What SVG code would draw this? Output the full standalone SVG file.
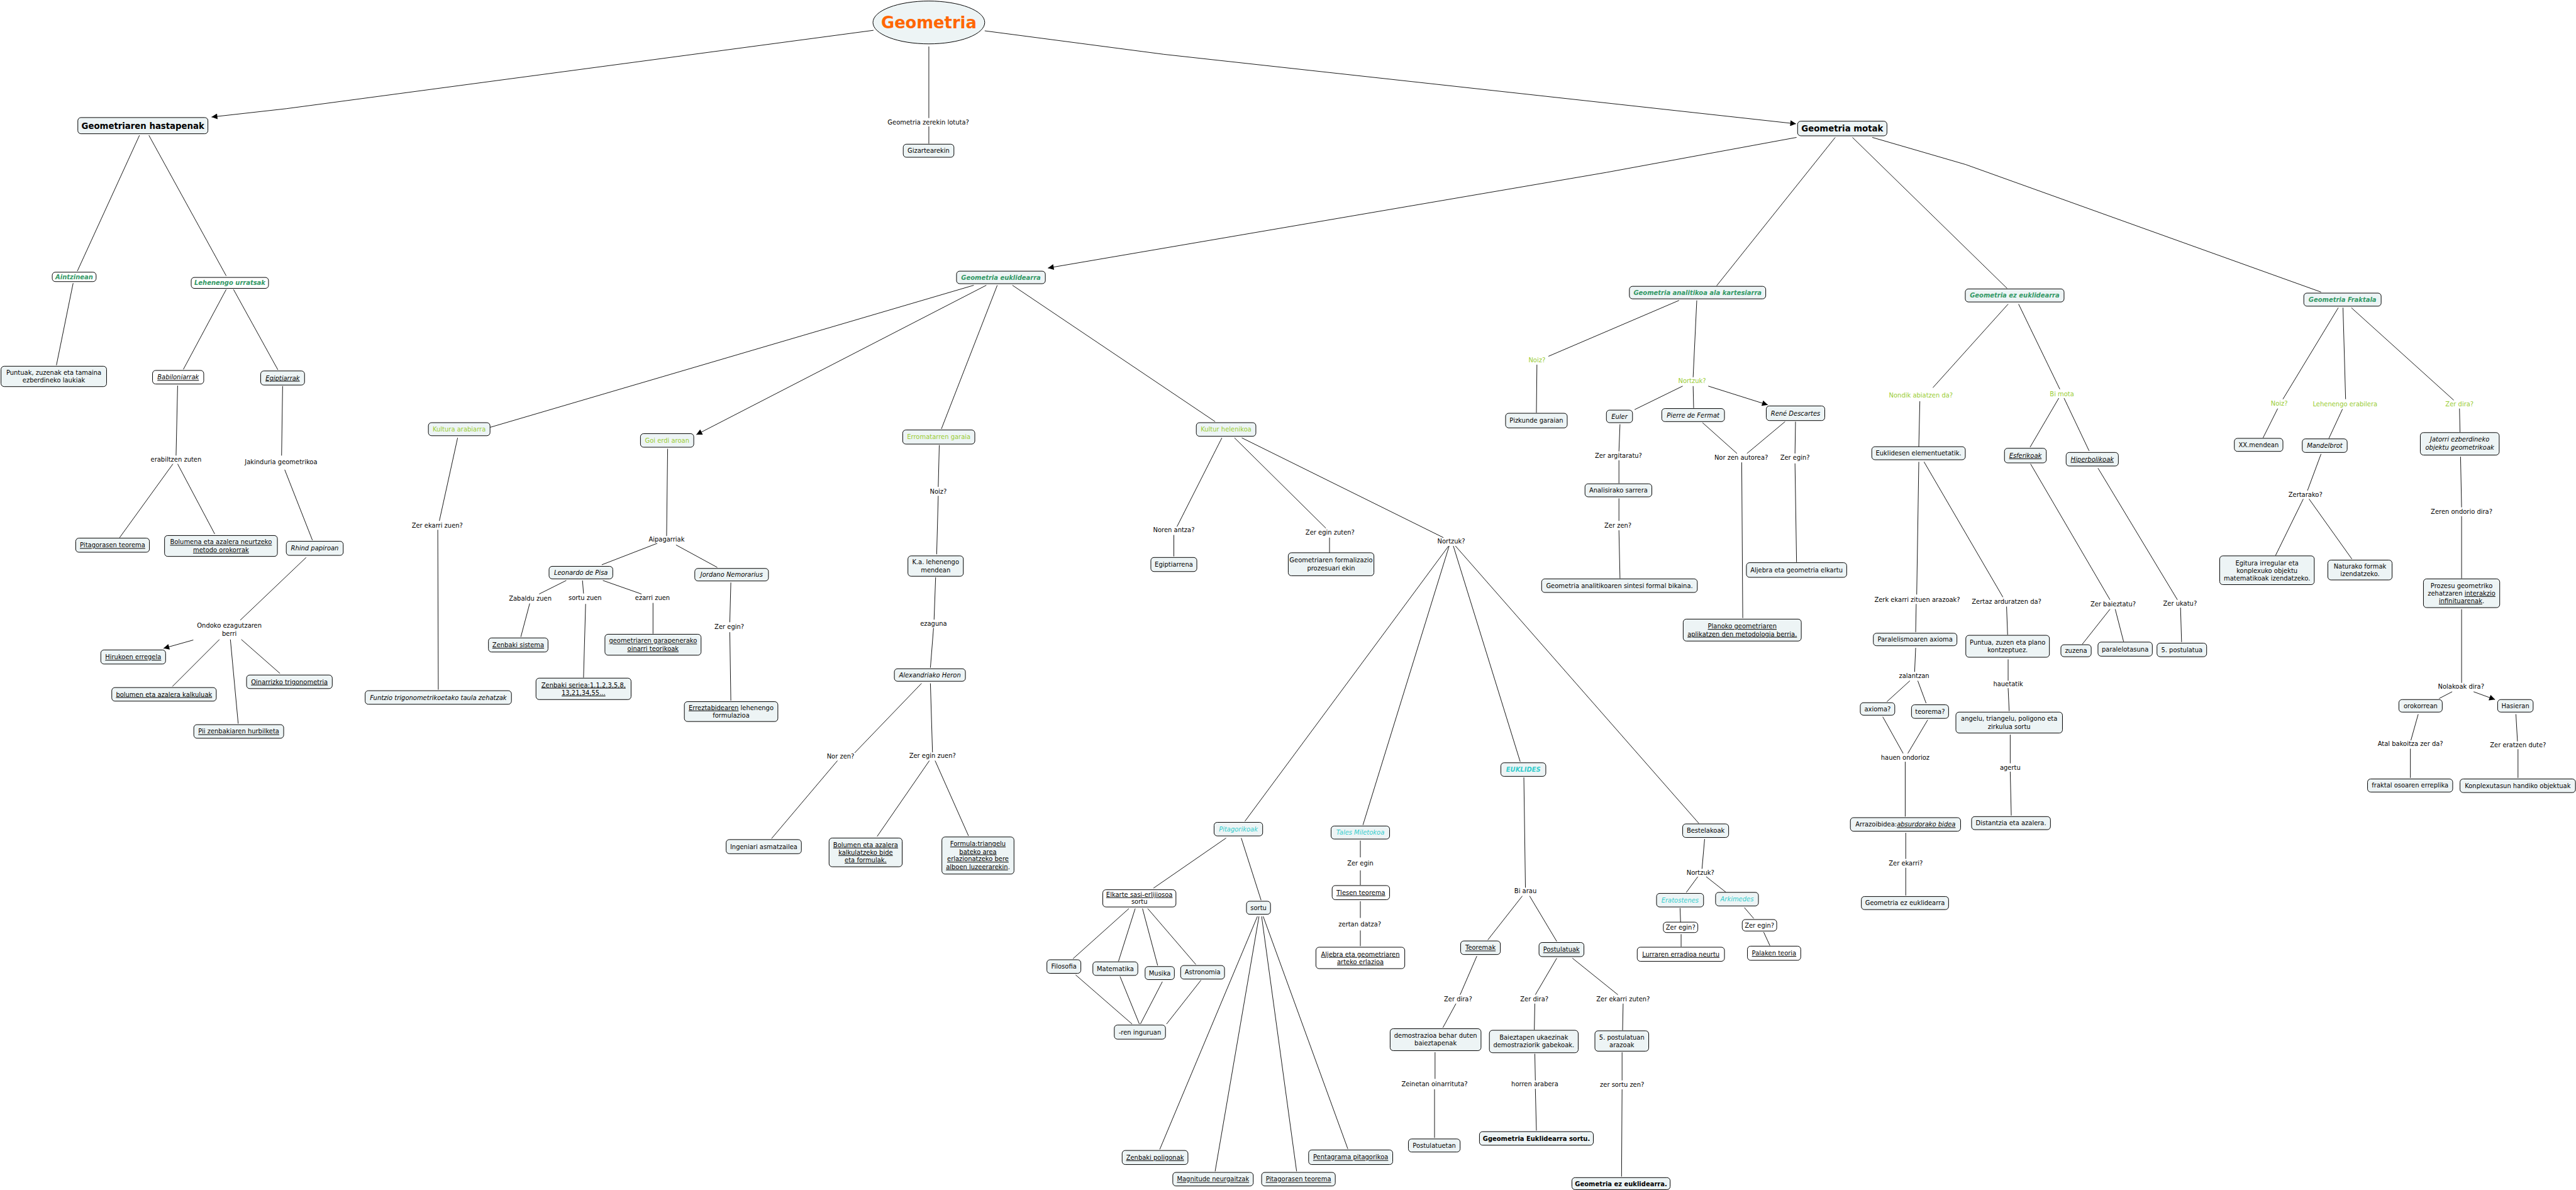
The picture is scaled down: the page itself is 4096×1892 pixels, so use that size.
<svg xmlns="http://www.w3.org/2000/svg" width="4096" height="1892" viewBox="0 0 4096 1892">
<style>
text{font-family:"DejaVu Sans",Verdana,sans-serif;font-size:12px;fill:#000;text-anchor:middle}
.nd rect,.nd ellipse{fill:#edf4f5;stroke:#000;stroke-width:1.2}
.wh rect{fill:#fff}
.cn path{stroke:#000;stroke-width:1.1;fill:none}
.g{fill:#339966;font-weight:bold;font-style:italic}
.y{fill:#99cc33}
.c{fill:#33cccc;font-style:italic}
.cb{fill:#33cccc;font-style:italic;font-weight:bold}
.i{font-style:italic}
.u{text-decoration:underline}
.b{font-weight:bold}
.h{font-weight:bold;font-size:16px}
.t{font-weight:bold;font-size:31px;fill:#ff6600}
</style>
<defs>
<marker id="arr" viewBox="0 0 10 10" refX="10" refY="5" markerWidth="14" markerHeight="11" markerUnits="userSpaceOnUse" orient="auto"><path d="M0,0 L10,5 L0,10 z" fill="#000"/></marker>
</defs>
<rect width="4096" height="1892" fill="#fff"/>
<g transform="scale(0.83066)">
<g id="connectors" class="cn">
<path d="M1672,58 L548,208 L405,224" marker-end="url(#arr)"/>
<path d="M1778,89 L1778,226 M1778,242 L1778,275"/>
<path d="M1885,59 L2228,104 L3438,237" marker-end="url(#arr)"/>
<path d="M267,259 L148,519 M285,259 L433,528 M140,542 L108,699 M433,554 L351,707 M447,554 L532,708"/>
<path d="M340,738 L337,872 M331,888 L229,1029 M340,888 L411,1022"/>
<path d="M541,739 L539,872 M545,899 L598,1034 M586,1067 L460,1187"/>
<path d="M370,1225 L313,1241" marker-end="url(#arr)"/>
<path d="M420,1224 L330,1314 M441,1224 L456,1385 M462,1224 L536,1289"/>
<path d="M3439,263 L3075,330 L2006,513" marker-end="url(#arr)"/>
<path d="M3513,263 L3286,547 M3546,263 L3842,552 M3584,263 L3763,315 L4443,559"/>
<path d="M1864,546 L938,818"/>
<path d="M1888,546 L1333,832" marker-end="url(#arr)"/>
<path d="M1909,546 L1802,821 M1938,546 L2326,807"/>
<path d="M876,838 L841,997 M838,1014 L839,1320"/>
<path d="M1278,859 L1276,1026 M1258,1040 L1152,1081 M1294,1043 L1373,1086 M1399,1115 L1397,1191 M1397,1210 L1399,1341"/>
<path d="M1084,1111 L1032,1137 M1014,1155 L997,1219 M1115,1111 L1117,1136 M1121,1156 L1117,1297 M1154,1111 L1228,1137 M1250,1154 L1250,1213"/>
<path d="M1798,852 L1796,932 M1796,949 L1793,1061 M1791,1105 L1788,1186 M1787,1202 L1781,1278"/>
<path d="M1764,1308 L1636,1441 M1603,1456 L1477,1605 M1781,1308 L1785,1440 M1779,1456 L1679,1601 M1790,1456 L1854,1600"/>
<path d="M2339,838 L2253,1008 M2247,1024 L2247,1065 M2363,838 L2538,1011 M2545,1029 L2545,1058 M2377,838 L2763,1029"/>
<path d="M2773,1045 L2383,1572 M2774,1045 L2609,1579 M2782,1045 L2910,1458 M2786,1045 L3252,1576"/>
<path d="M2347,1604 L2208,1700 M2376,1604 L2414,1723"/>
<path d="M2161,1739 L2054,1835 M2173,1739 L2141,1840 M2187,1739 L2216,1848 M2197,1739 L2289,1846"/>
<path d="M2059,1866 L2167,1960 M2144,1869 L2181,1960 M2225,1879 L2183,1960 M2299,1876 L2233,1960"/>
<path d="M2407,1754 L2220,2200 M2410,1754 L2326,2242 M2415,1754 L2482,2242 M2418,1754 L2580,2199"/>
<path d="M2604,1609 L2604,1641 M2604,1666 L2604,1694 M2604,1725 L2604,1757 M2604,1781 L2604,1811"/>
<path d="M2917,1488 L2920,1699 M2914,1715 L2848,1799 M2928,1715 L2980,1802"/>
<path d="M2827,1830 L2795,1904 M2787,1921 L2762,1967 M2980,1834 L2939,1904 M2938,1921 L2937,1971 M3010,1834 L3097,1904 M3107,1921 L3106,1972"/>
<path d="M2747,2014 L2747,2065 M2746,2085 L2746,2178 M2938,2017 L2939,2068 M2939,2084 L2941,2164 M3105,2014 L3105,2068 M3105,2085 L3104,2252"/>
<path d="M3263,1606 L3258,1663 M3250,1678 L3228,1708 M3266,1678 L3304,1708 M3216,1738 L3217,1765 M3218,1788 L3218,1812 M3339,1737 L3357,1758 M3376,1784 L3388,1810"/>
<path d="M3214,575 L2964,682 M2942,698 L2941,790 M3248,575 L3241,722 M3221,739 L3129,784 M3241,739 L3242,781"/>
<path d="M3270,739 L3384,775" marker-end="url(#arr)"/>
<path d="M3101,812 L3099,864 M3099,881 L3099,925 M3099,954 L3099,997 M3099,1015 L3101,1107"/>
<path d="M3259,809 L3325,868 M3417,807 L3344,868 M3334,885 L3336,1183 M3437,807 L3436,868 M3436,887 L3439,1076"/>
<path d="M3844,582 L3700,742 M3675,768 L3673,855 M3864,582 L3943,745 M3941,762 L3886,856 M3951,762 L3999,863"/>
<path d="M3673,884 L3669,1138 M3668,1156 L3667,1210 M3683,884 L3834,1143 M3841,1161 L3843,1215"/>
<path d="M3667,1240 L3665,1286 M3656,1303 L3612,1343 M3671,1303 L3687,1346 M3604,1372 L3643,1442 M3690,1378 L3652,1442"/>
<path d="M3647,1458 L3647,1563 M3648,1594 L3648,1644 M3648,1661 L3648,1714"/>
<path d="M3844,1262 L3844,1303 M3844,1317 L3846,1361 M3848,1406 L3848,1461 M3848,1477 L3850,1561"/>
<path d="M3887,888 L4039,1148 M4039,1166 L3986,1233 M4049,1166 L4065,1228 M4016,896 L4168,1148 M4174,1163 L4176,1229"/>
<path d="M4476,589 L4370,764 M4360,782 L4332,838 M4485,589 L4490,764 M4484,783 L4458,839 M4501,589 L4697,766 M4708,782 L4709,827"/>
<path d="M4443,869 L4417,939 M4409,955 L4356,1063 M4420,955 L4502,1070 M4710,874 L4712,971 M4712,988 L4712,1107"/>
<path d="M4712,1166 L4712,1307 M4694,1324 L4669,1337"/>
<path d="M4735,1324 L4776,1339" marker-end="url(#arr)"/>
<path d="M4629,1367 L4615,1417 M4614,1433 L4614,1489 M4816,1367 L4819,1419 M4820,1434 L4820,1489"/>
</g>
<g id="labels">
<text x="1777" y="238">Geometria zerekin lotuta?</text>
<text x="337" y="884">erabiltzen zuten</text>
<text x="538" y="888">Jakinduria geometrikoa</text>
<text x="439" y="1202">Ondoko ezagutzaren</text>
<text x="439" y="1217">berri</text>
<text x="837" y="1010">Zer ekarri zuen?</text>
<text x="1015" y="1150">Zabaldu zuen</text>
<text x="1120" y="1149">sortu zuen</text>
<text x="1249" y="1149">ezarri zuen</text>
<text x="1276" y="1037">Aipagarriak</text>
<text x="1396" y="1204">Zer egin?</text>
<text x="1796" y="945">Noiz?</text>
<text x="1787" y="1198">ezaguna</text>
<text x="1609" y="1452">Nor zen?</text>
<text x="1785" y="1451">Zer egin zuen?</text>
<text x="2247" y="1019">Noren antza?</text>
<text x="2546" y="1023">Zer egin zuten?</text>
<text x="2778" y="1040">Nortzuk?</text>
<text class="y" x="2942" y="693">Noiz?</text>
<text class="y" x="3239" y="733">Nortzuk?</text>
<text x="3098" y="876">Zer argitaratu?</text>
<text x="3097" y="1010">Zer zen?</text>
<text x="3333" y="880">Nor zen autorea?</text>
<text x="3436" y="880">Zer egin?</text>
<text class="y" x="3677" y="761">Nondik abiatzen da?</text>
<text class="y" x="3947" y="758">Bi mota</text>
<text x="3670" y="1152">Zerk ekarri zituen arazoak?</text>
<text x="3664" y="1298">zalantzan</text>
<text x="3647" y="1454">hauen ondorioz</text>
<text x="3841" y="1156">Zertaz arduratzen da?</text>
<text x="3844" y="1314">hauetatik</text>
<text x="3848" y="1474">agertu</text>
<text x="4045" y="1161">Zer baieztatu?</text>
<text x="4173" y="1159">Zer ukatu?</text>
<text class="y" x="4363" y="777">Noiz?</text>
<text class="y" x="4489" y="778">Lehenengo erabilera</text>
<text class="y" x="4708" y="778">Zer dira?</text>
<text x="4413" y="951">Zertarako?</text>
<text x="4712" y="983">Zeren ondorio dira?</text>
<text x="4711" y="1318">Nolakoak dira?</text>
<text x="4614" y="1428">Atal bakoitza zer da?</text>
<text x="4820" y="1430">Zer eratzen dute?</text>
<text x="2604" y="1656">Zer egin</text>
<text x="2603" y="1773">zertan datza?</text>
<text x="2920" y="1710">Bi arau</text>
<text x="2791" y="1917">Zer dira?</text>
<text x="2937" y="1917">Zer dira?</text>
<text x="3107" y="1916">Zer ekarri zuten?</text>
<text x="2746" y="2079">Zeinetan oinarrituta?</text>
<text x="2938" y="2079">horren arabera</text>
<text x="3105" y="2080">zer sortu zen?</text>
<text x="3255" y="1674">Nortzuk?</text>
<text x="3648" y="1656">Zer ekarri?</text>
</g>
<g class="nd">
<g id="n-geometria"><ellipse cx="1778" cy="43" rx="107" ry="41"/><text class="t" x="1778" y="54">Geometria</text></g>
<g id="n-gizartearekin"><rect x="1729" y="276" width="97" height="25" rx="6"/><text x="1777.5" y="292.8">Gizartearekin</text></g>
<g id="n-hastapenak"><rect x="149" y="225" width="249" height="31" rx="6"/><text class="h" x="273.5" y="246.3">Geometriaren hastapenak</text></g>
<g id="n-motak"><rect x="3441" y="232" width="171" height="28" rx="6"/><text class="h" x="3526.5" y="251.8">Geometria motak</text></g>
<g id="n-aintzinean" class="wh"><rect x="100" y="521" width="84" height="18" rx="6"/><text class="g" x="142" y="534.3">Aintzinean</text></g>
<g id="n-lehenengo" class="wh"><rect x="366" y="531" width="148" height="21" rx="6"/><text class="g" x="440" y="545.8">Lehenengo urratsak</text></g>
<g id="n-puntuak"><rect x="2" y="701" width="202" height="39" rx="6"/><text x="103" y="717.3">Puntuak, zuzenak eta tamaina</text><text x="103" y="732.3">ezberdineko laukiak</text></g>
<g id="n-babiloniarrak" class="wh"><rect x="292" y="709" width="98" height="26" rx="6"/><text class="i u" x="341" y="726.3">Babiloniarrak</text></g>
<g id="n-egiptiarrak"><rect x="499" y="710" width="84" height="27" rx="6"/><text class="i u" x="541" y="727.8">Egiptiarrak</text></g>
<g id="n-pitagorasen1"><rect x="145" y="1030" width="141" height="27" rx="6"/><text class="u" x="215.5" y="1047.8">Pitagorasen teorema</text></g>
<g id="n-bolumena"><rect x="315" y="1025" width="216" height="40" rx="6"/><text class="u" x="423" y="1041.8">Bolumena eta azalera neurtzeko</text><text class="u" x="423" y="1056.8">metodo orokorrak</text></g>
<g id="n-rhind"><rect x="548" y="1036" width="109" height="27" rx="6"/><text class="i" x="602.5" y="1053.8">Rhind papiroan</text></g>
<g id="n-hirukoen"><rect x="193" y="1244" width="124" height="27" rx="6"/><text class="u" x="255" y="1261.8">Hirukoen erregela</text></g>
<g id="n-bolumen-kalk"><rect x="214" y="1316" width="200" height="26" rx="6"/><text class="u" x="314" y="1333.3">bolumen eta azalera kalkuluak</text></g>
<g id="n-oinarrizko"><rect x="472" y="1292" width="164" height="26" rx="6"/><text class="u" x="554" y="1309.3">Oinarrizko trigonometria</text></g>
<g id="n-pii"><rect x="371" y="1387" width="172" height="26" rx="6"/><text class="u" x="457" y="1404.3">Pii zenbakiaren hurbilketa</text></g>
<g id="n-kultura-arab"><rect x="820" y="809" width="118" height="25" rx="6"/><text class="y" x="879" y="825.8">Kultura arabiarra</text></g>
<g id="n-funtzio"><rect x="699" y="1322" width="280" height="26" rx="6"/><text class="i" x="839" y="1339.3">Funtzio trigonometrikoetako taula zehatzak</text></g>
<g id="n-leonardo"><rect x="1051" y="1084" width="122" height="24" rx="6"/><text class="i" x="1112" y="1100.3">Leonardo de Pisa</text></g>
<g id="n-zenbaki-sistema"><rect x="935" y="1221" width="114" height="27" rx="6"/><text class="u" x="992" y="1238.8">Zenbaki sistema</text></g>
<g id="n-zenbaki-seriea"><rect x="1026" y="1298" width="182" height="41" rx="6"/><text class="u" x="1117" y="1315.3">Zenbaki seriea:1,1,2,3,5,8,</text><text class="u" x="1117" y="1330.3">13,21,34,55...</text></g>
<g id="n-garapenerako"><rect x="1158" y="1214" width="184" height="40" rx="6"/><text class="u" x="1250" y="1230.8">geometriaren garapenerako</text><text class="u" x="1250" y="1245.8">oinarri teorikoak</text></g>
<g id="n-goi-erdi"><rect x="1226" y="830" width="102" height="26" rx="6"/><text class="y" x="1277" y="847.3">Goi erdi aroan</text></g>
<g id="n-jordano"><rect x="1330" y="1088" width="141" height="24" rx="6"/><text class="i" x="1400.5" y="1104.3">Jordano Nemorarius</text></g>
<g id="n-erreztabide"><rect x="1310" y="1343" width="179" height="38" rx="6"/><text x="1399.5" y="1358.8"><tspan class="u">Erreztabidearen</tspan> lehenengo</text><text x="1399.5" y="1373.8">formulazioa</text></g>
<g id="n-erromatarren"><rect x="1728" y="823" width="138" height="27" rx="6"/><text class="y" x="1797" y="840.8">Erromatarren garaia</text></g>
<g id="n-ka"><rect x="1738" y="1064" width="106" height="39" rx="6"/><text x="1791" y="1080.3">K.a. lehenengo</text><text x="1791" y="1095.3">mendean</text></g>
<g id="n-heron"><rect x="1712" y="1280" width="136" height="24" rx="6"/><text class="i" x="1780" y="1296.3">Alexandriako Heron</text></g>
<g id="n-ingeniari"><rect x="1390" y="1607" width="144" height="27" rx="6"/><text x="1462" y="1624.8">Ingeniari asmatzailea</text></g>
<g id="n-bolumen-bide"><rect x="1587" y="1604" width="140" height="55" rx="6"/><text class="u" x="1657" y="1621.3">Bolumen eta azalera</text><text class="u" x="1657" y="1635.8">kalkulatzeko bide</text><text class="u" x="1657" y="1650.3">eta formulak.</text></g>
<g id="n-formula"><rect x="1803" y="1602" width="138" height="71" rx="6"/><text class="u" x="1872" y="1619.3">Formula:triangelu</text><text class="u" x="1872" y="1634.3">bateko area</text><text class="u" x="1872" y="1648.3">erlazionatzeko bere</text><text x="1872" y="1663.3"><tspan class="u">alboen luzeerarekin</tspan>.</text></g>
<g id="n-helenikoa"><rect x="2290" y="809" width="114" height="26" rx="6"/><text class="y" x="2347" y="826.3">Kultur helenikoa</text></g>
<g id="n-egiptiarrena"><rect x="2203" y="1067" width="88" height="27" rx="6"/><text x="2247" y="1084.8">Egiptiarrena</text></g>
<g id="n-formalizazio"><rect x="2466" y="1058" width="164" height="44" rx="6"/><text x="2548" y="1076.8">Geometriaren formalizazio</text><text x="2548" y="1091.8">prozesuari ekin</text></g>
<g id="n-euklidearra"><rect x="1831" y="519" width="170" height="24" rx="6"/><text class="g" x="1916" y="535.3">Geometria euklidearra</text></g>
<g id="n-analitikoa"><rect x="3119" y="548" width="261" height="24" rx="6"/><text class="g" x="3249.5" y="564.3">Geometria analitikoa ala kartesiarra</text></g>
<g id="n-ez-eukl"><rect x="3762" y="553" width="189" height="25" rx="6"/><text class="g" x="3856.5" y="569.8">Geometria ez euklidearra</text></g>
<g id="n-fraktala"><rect x="4410" y="561" width="148" height="25" rx="6"/><text class="g" x="4484" y="577.8">Geometria Fraktala</text></g>
<g id="n-pizkunde"><rect x="2882" y="791" width="118" height="28" rx="6"/><text x="2941" y="809.3">Pizkunde garaian</text></g>
<g id="n-euler"><rect x="3075" y="785" width="50" height="24" rx="6"/><text class="i" x="3100" y="801.3">Euler</text></g>
<g id="n-fermat"><rect x="3181" y="782" width="120" height="25" rx="6"/><text class="i" x="3241" y="798.8">Pierre de Fermat</text></g>
<g id="n-descartes"><rect x="3381" y="777" width="112" height="28" rx="6"/><text class="i" x="3437" y="795.3">René Descartes</text></g>
<g id="n-analisirako"><rect x="3034" y="926" width="128" height="25" rx="6"/><text x="3098" y="942.8">Analisirako sarrera</text></g>
<g id="n-sintesi"><rect x="2951" y="1108" width="298" height="26" rx="6"/><text x="3100" y="1125.3">Geometria analitikoaren sintesi formal bikaina.</text></g>
<g id="n-planoko"><rect x="3222" y="1185" width="226" height="42" rx="6"/><text class="u" x="3335" y="1202.8">Planoko geometriaren</text><text class="u" x="3335" y="1217.8">aplikatzen den metodologia berria.</text></g>
<g id="n-aljebra-elkartu"><rect x="3343" y="1077" width="192" height="28" rx="6"/><text x="3439" y="1095.3">Aljebra eta geometria elkartu</text></g>
<g id="n-euklidesen"><rect x="3583" y="855" width="179" height="25" rx="6"/><text x="3672.5" y="871.8">Euklidesen elementuetatik.</text></g>
<g id="n-paralelismo"><rect x="3586" y="1212" width="160" height="24" rx="6"/><text x="3666" y="1228.3">Paralelismoaren axioma</text></g>
<g id="n-axioma"><rect x="3561" y="1345" width="66" height="24" rx="6"/><text x="3594" y="1361.3">axioma?</text></g>
<g id="n-teorema"><rect x="3659" y="1349" width="71" height="26" rx="6"/><text x="3694.5" y="1366.3">teorema?</text></g>
<g id="n-arrazoibidea"><rect x="3542" y="1565" width="211" height="26" rx="6"/><text x="3647.5" y="1582.3">Arrazoibidea:<tspan class="i u">absurdorako bidea</tspan></text></g>
<g id="n-ez-eukl-box"><rect x="3563" y="1716" width="167" height="25" rx="6"/><text x="3646.5" y="1732.8">Geometria ez euklidearra</text></g>
<g id="n-esferikoak"><rect x="3837" y="858" width="80" height="28" rx="6"/><text class="i u" x="3877" y="876.3">Esferikoak</text></g>
<g id="n-hiperbolikoak"><rect x="3955" y="866" width="100" height="26" rx="6"/><text class="i u" x="4005" y="883.3">Hiperbolikoak</text></g>
<g id="n-puntua"><rect x="3763" y="1216" width="160" height="42" rx="6"/><text x="3843" y="1233.8">Puntua, zuzen eta plano</text><text x="3843" y="1248.8">kontzeptuez.</text></g>
<g id="n-angelu"><rect x="3744" y="1363" width="204" height="40" rx="6"/><text x="3846" y="1379.8">angelu, triangelu, poligono eta</text><text x="3846" y="1394.8">zirkulua sortu</text></g>
<g id="n-distantzia"><rect x="3774" y="1563" width="151" height="25" rx="6"/><text x="3849.5" y="1579.8">Distantzia eta azalera.</text></g>
<g id="n-zuzena"><rect x="3945" y="1234" width="58" height="23" rx="6"/><text x="3974" y="1249.8">zuzena</text></g>
<g id="n-paralelotasuna"><rect x="4016" y="1229" width="104" height="27" rx="6"/><text x="4068" y="1246.8">paralelotasuna</text></g>
<g id="n-postulatua5"><rect x="4129" y="1231" width="95" height="26" rx="6"/><text x="4176.5" y="1248.3">5. postulatua</text></g>
<g id="n-xx"><rect x="4277" y="839" width="93" height="25" rx="6"/><text x="4323.5" y="855.8">XX.mendean</text></g>
<g id="n-mandelbrot"><rect x="4407" y="840" width="86" height="26" rx="6"/><text class="i" x="4450" y="857.3">Mandelbrot</text></g>
<g id="n-egitura"><rect x="4249" y="1064" width="181" height="55" rx="6"/><text x="4339.5" y="1082.3">Egitura irregular eta</text><text x="4339.5" y="1096.8">konplexuko objektu</text><text x="4339.5" y="1111.3">matematikoak izendatzeko.</text></g>
<g id="n-naturako"><rect x="4456" y="1072" width="123" height="38" rx="6"/><text x="4517.5" y="1088.3">Naturako formak</text><text x="4517.5" y="1102.3">izendatzeko.</text></g>
<g id="n-jatorri"><rect x="4633" y="828" width="151" height="43" rx="6"/><text class="i" x="4708.5" y="845.7">Jatorri ezberdineko</text><text class="i" x="4708.5" y="860.3">objektu geometrikoak</text></g>
<g id="n-prozesu"><rect x="4639" y="1108" width="146" height="55" rx="6"/><text x="4712" y="1125.3">Prozesu geometriko</text><text x="4712" y="1139.9">zehatzaren <tspan class="u">interakzio</tspan></text><text x="4712" y="1154.3"><tspan class="u">infinituarenak</tspan>.</text></g>
<g id="n-orokorrean"><rect x="4592" y="1339" width="83" height="24" rx="6"/><text x="4633.5" y="1355.3">orokorrean</text></g>
<g id="n-hasieran"><rect x="4781" y="1339" width="68" height="24" rx="6"/><text x="4815" y="1355.3">Hasieran</text></g>
<g id="n-fraktal-osoa"><rect x="4532" y="1491" width="163" height="25" rx="6"/><text x="4613.5" y="1507.8">fraktal osoaren erreplika</text></g>
<g id="n-konplexutasun"><rect x="4709" y="1491" width="221" height="26" rx="6"/><text x="4819.5" y="1508.3">Konplexutasun handiko objektuak</text></g>
<g id="n-euklides"><rect x="2873" y="1460" width="86" height="26" rx="6"/><text class="cb" x="2916" y="1477.3">EUKLIDES</text></g>
<g id="n-pitagorikoak"><rect x="2324" y="1574" width="93" height="26" rx="6"/><text class="c" x="2370.5" y="1591.3">Pitagorikoak</text></g>
<g id="n-elkarte" class="wh"><rect x="2111" y="1703" width="140" height="33" rx="6"/><text class="u" x="2181" y="1716.3">Elkarte sasi-erlijiosoa</text><text x="2181" y="1730.3">sortu</text></g>
<g id="n-sortu"><rect x="2386" y="1725" width="46" height="25" rx="6"/><text x="2409" y="1741.8">sortu</text></g>
<g id="n-filosofia"><rect x="2004" y="1837" width="65" height="26" rx="6"/><text x="2036.5" y="1854.3">Filosofia</text></g>
<g id="n-matematika"><rect x="2092" y="1841" width="86" height="26" rx="6"/><text x="2135" y="1858.3">Matematika</text></g>
<g id="n-musika"><rect x="2192" y="1850" width="56" height="25" rx="6"/><text x="2220" y="1866.8">Musika</text></g>
<g id="n-astronomia"><rect x="2260" y="1848" width="84" height="26" rx="6"/><text x="2302" y="1865.3">Astronomia</text></g>
<g id="n-inguruan"><rect x="2133" y="1962" width="98" height="27" rx="6"/><text x="2182" y="1979.8">-ren inguruan</text></g>
<g id="n-poligonak"><rect x="2148" y="2202" width="126" height="27" rx="6"/><text class="u" x="2211" y="2219.8">Zenbaki poligonak</text></g>
<g id="n-magnitude"><rect x="2245" y="2244" width="154" height="26" rx="6"/><text class="u" x="2322" y="2261.3">Magnitude neurgaitzak</text></g>
<g id="n-pitagorasen2"><rect x="2415" y="2244" width="141" height="26" rx="6"/><text class="u" x="2485.5" y="2261.3">Pitagorasen teorema</text></g>
<g id="n-pentagrama"><rect x="2505" y="2201" width="161" height="28" rx="6"/><text class="u" x="2585.5" y="2219.3">Pentagrama pitagorikoa</text></g>
<g id="n-tales"><rect x="2548" y="1581" width="112" height="25" rx="6"/><text class="c" x="2604" y="1597.8">Tales Miletokoa</text></g>
<g id="n-tlesen" class="wh"><rect x="2550" y="1695" width="110" height="27" rx="6"/><text class="u" x="2605" y="1712.8">Tlesen teorema</text></g>
<g id="n-aljebra-erlazioa" class="wh"><rect x="2519" y="1813" width="170" height="41" rx="6"/><text class="u" x="2604" y="1830.6">Aljebra eta geometriaren</text><text class="u" x="2604" y="1845.2">arteko erlazioa</text></g>
<g id="n-teoremak"><rect x="2796" y="1801" width="76" height="26" rx="6"/><text class="u" x="2834" y="1818.3">Teoremak</text></g>
<g id="n-postulatuak"><rect x="2946" y="1804" width="86" height="27" rx="6"/><text class="u" x="2989" y="1821.8">Postulatuak</text></g>
<g id="n-demostrazioa"><rect x="2661" y="1969" width="174" height="42" rx="6"/><text x="2748" y="1986.3">demostrazioa behar duten</text><text x="2748" y="2001.3">baieztapenak</text></g>
<g id="n-baieztapen"><rect x="2851" y="1972" width="170" height="43" rx="6"/><text x="2936" y="1989.6">Baieztapen ukaezinak</text><text x="2936" y="2004.1">demostraziorik gabekoak.</text></g>
<g id="n-postulatuan5"><rect x="3053" y="1973" width="103" height="39" rx="6"/><text x="3104.5" y="1989.6">5. postulatuan</text><text x="3104.5" y="2004.1">arazoak</text></g>
<g id="n-postulatuetan"><rect x="2696" y="2180" width="99" height="25" rx="6"/><text x="2745.5" y="2196.8">Postulatuetan</text></g>
<g id="n-ggeometria"><rect x="2832" y="2166" width="218" height="26" rx="6"/><text class="b" x="2941" y="2183.3">Ggeometria Euklidearra sortu.</text></g>
<g id="n-ez-eukl-final"><rect x="3009" y="2254" width="188" height="23" rx="6"/><text class="b" x="3103" y="2270.3">Geometria ez euklidearra.</text></g>
<g id="n-bestelakoak"><rect x="3221" y="1577" width="88" height="26" rx="6"/><text x="3265" y="1594.3">Bestelakoak</text></g>
<g id="n-eratostenes"><rect x="3171" y="1710" width="90" height="26" rx="6"/><text class="c" x="3216" y="1727.3">Eratostenes</text></g>
<g id="n-arkimedes"><rect x="3284" y="1708" width="82" height="26" rx="6"/><text class="c" x="3325" y="1725.3">Arkimedes</text></g>
<g id="n-zeregin1" class="wh"><rect x="3184" y="1765" width="66" height="20" rx="6"/><text x="3217" y="1779.3">Zer egin?</text></g>
<g id="n-zeregin2" class="wh"><rect x="3335" y="1760" width="66" height="22" rx="6"/><text x="3368" y="1775.3">Zer egin?</text></g>
<g id="n-lurraren" class="wh"><rect x="3134" y="1813" width="167" height="27" rx="6"/><text class="u" x="3217.5" y="1830.8">Lurraren erradioa neurtu</text></g>
<g id="n-palaken" class="wh"><rect x="3345" y="1811" width="102" height="27" rx="6"/><text class="u" x="3396" y="1828.8">Palaken teoria</text></g>
</g>
</g>
</svg>
